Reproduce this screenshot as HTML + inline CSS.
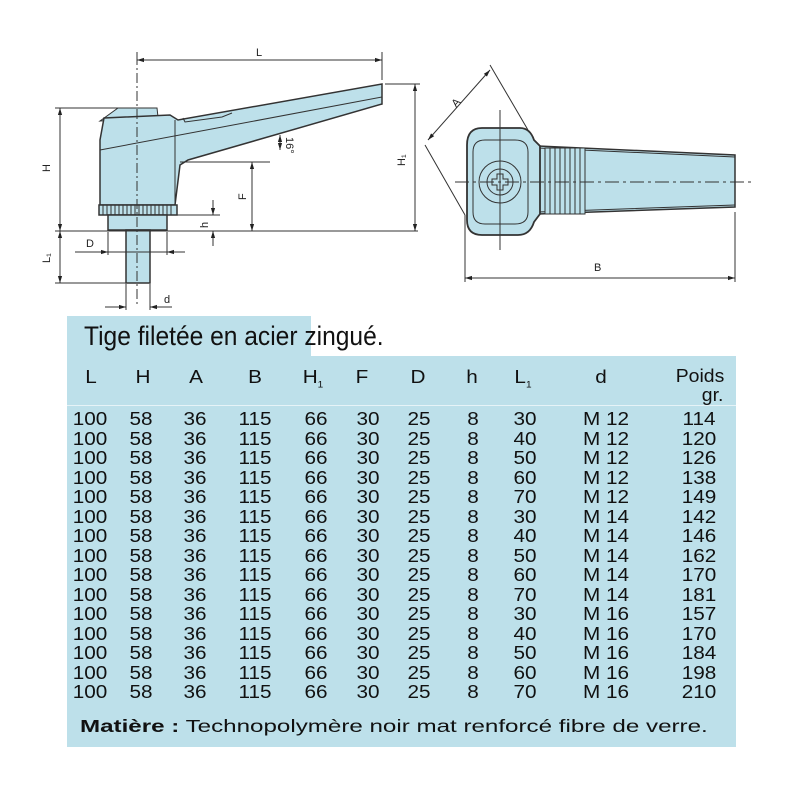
<!DOCTYPE html>
<html><head><meta charset="utf-8"><style>
body{margin:0;width:800px;height:800px;background:#fff;position:relative;overflow:hidden;font-family:"Liberation Sans",Arial,sans-serif;}
.t{position:absolute;white-space:nowrap;color:#111;}
.row{position:absolute;left:0;font-size:18.5px;color:#111;}
.row span{position:absolute;top:-2px;text-align:center;transform:scaleX(1.12);white-space:nowrap;}
</style></head><body>
<svg width="800" height="320" style="position:absolute;left:0;top:0" viewBox="0 0 800 320">
<defs><marker id="a" viewBox="0 0 10 10" refX="10" refY="5" markerWidth="7" markerHeight="7" orient="auto-start-reverse"><path d="M0,2 L10,5 L0,8z" fill="#222"/></marker></defs>
<g stroke="#333" stroke-width="1" fill="none">
<path d="M118,108 L157,108 L158,117 L100,121 Z" fill="#bde0ea"/>
<path d="M104,118 L170,115 L178,120 L382,84 L382,104 L188,160 L180,165 L175,205 L100,205 L100,140 Z" fill="#bde0ea" stroke-width="1.5"/>
<path d="M183,118 L185,122 L222,117 L232,113" />
<path d="M100,150 L382,97"/>
<path d="M175,120 L175,205"/>
<rect x="99" y="205" width="78" height="10" fill="#bde0ea" stroke-width="1.5"/>
<path d="M103,205v10M107,205v10M111,205v10M115,205v10M119,205v10M123,205v10M127,205v10M131,205v10M135,205v10M139,205v10M143,205v10M147,205v10M151,205v10M155,205v10M159,205v10M163,205v10M167,205v10M171,205v10"/>
<rect x="108" y="215" width="59" height="15" fill="#bde0ea" stroke-width="1.5"/>
<rect x="126" y="230" width="24" height="53" fill="#bde0ea" stroke-width="1.5"/>
<path d="M137,55 L137,305" stroke-dasharray="10,3,2,3"/>
<path d="M137,52 L137,60 M382,52 L382,80"/>
<path d="M137,60 L382,60" marker-start="url(#a)" marker-end="url(#a)"/>
<path d="M55,231 L418,231"/>
<path d="M55,108 L118,108 M55,283 L126,283 M385,84 L420,84 M180,162 L270,162 M177,215 L220,215"/>
<path d="M60,108 L60,231" marker-start="url(#a)" marker-end="url(#a)"/>
<path d="M60,231 L60,283" marker-start="url(#a)" marker-end="url(#a)"/>
<path d="M415,84 L415,231" marker-start="url(#a)" marker-end="url(#a)"/>
<path d="M252,162 L252,231" marker-start="url(#a)" marker-end="url(#a)"/>
<path d="M213,200 L213,215" marker-end="url(#a)"/><path d="M213,246 L213,231" marker-end="url(#a)"/>
<path d="M280,135 L280,150" marker-start="url(#a)" marker-end="url(#a)"/>
<path d="M108,232 L108,255 M167,232 L167,255"/>
<path d="M75,252 L167,252" /><path d="M90,252 L108,252" marker-end="url(#a)"/><path d="M185,252 L167,252" marker-end="url(#a)"/>
<path d="M126,284 L126,310 M150,284 L150,310"/>
<path d="M105,307 L126,307" marker-end="url(#a)"/><path d="M172,307 L150,307" marker-end="url(#a)"/>
<path d="M538,146 L735,155 L735,207 L538,214 Z" fill="#bde0ea" stroke-width="1.5"/>
<path d="M538,148 L735,157 M538,212 L735,205"/>
<path d="M482,128 L520,128 Q530,128 534,140 L540,146 L540,214 L534,222 Q530,235 518,235 L482,235 Q467,235 467,220 L467,145 Q467,128 482,128 Z" fill="#bde0ea" stroke-width="1.8"/>
<path d="M485,140 L515,140 Q528,140 528,152 L528,212 Q528,224 515,224 L485,224 Q473,224 473,212 L473,152 Q473,140 485,140 Z"/>
<rect x="545" y="148" width="40" height="66" fill="#bde0ea"/>
<path d="M550,148v66M555,148v66M560,148v66M565,148v66M570,148v66M575,148v66M580,148v66"/>
<circle cx="500" cy="182" r="21"/><circle cx="500" cy="182" r="13"/>
<path d="M497,174h6v5h5v6h-5v5h-6v-5h-5v-6h5z" fill="#bde0ea"/>
<path d="M455,182 L752,182" stroke-dasharray="14,4,3,4"/>
<path d="M500,110 L500,250"/>
<path d="M465,215 L465,282 M735,212 L735,282"/>
<path d="M465,278 L735,278" marker-start="url(#a)" marker-end="url(#a)"/>
<path d="M425,145 L465,215 M490,65 L528,130"/>
<path d="M428,140 L490,70" marker-start="url(#a)" marker-end="url(#a)"/>
</g>
<g font-family="Liberation Sans,sans-serif" font-size="11" fill="#222">
<text x="256" y="56">L</text>
<text x="50" y="172" transform="rotate(-90 50 172)">H</text>
<text x="405" y="166" transform="rotate(-90 405 166)">H₁</text>
<text x="246" y="200" transform="rotate(-90 246 200)">F</text>
<text x="50" y="263" transform="rotate(-90 50 263)">L₁</text>
<text x="208" y="228" transform="rotate(-90 208 228)">h</text>
<text x="286" y="137" transform="rotate(90 286 137)">16°</text>
<text x="86" y="247">D</text>
<text x="164" y="303">d</text>
<text x="594" y="271">B</text>
<text x="450" y="106" transform="rotate(-48 455 100)">A</text>
</g>
</svg>
<div style="position:absolute;left:67px;top:316px;width:244px;height:42px;background:#bde0ea"></div>
<div style="position:absolute;left:67px;top:356px;width:669px;height:391px;background:#bde0ea"></div>
<div style="position:absolute;left:67px;top:405px;width:669px;height:1px;background:#e6f3f7"></div>
<div class="t" style="left:84px;top:321px;font-size:27px;transform:scaleX(0.91);transform-origin:left">Tige filetée en acier zingué.</div>
<div class="row" style="top:368px;width:800px;height:40px">
<span style="left:81px;width:20px">L</span><span style="left:133px;width:20px">H</span><span style="left:186px;width:20px">A</span><span style="left:245px;width:20px">B</span><span style="left:300px;width:26px">H<sub style="font-size:9px">1</sub></span><span style="left:352px;width:20px">F</span><span style="left:408px;width:20px">D</span><span style="left:462px;width:20px">h</span><span style="left:510px;width:26px">L<sub style="font-size:9px">1</sub></span><span style="left:591px;width:20px">d</span><span style="left:670px;width:60px;line-height:19px;transform:scaleX(1.05)">Poids<br><span style="position:static;padding-left:24px;transform:none">gr.</span></span>
</div>
<div id="rows"></div>
<div class="t" style="left:80px;top:716px;font-size:17.5px;transform:scaleX(1.38);transform-origin:left"><b>Matière :</b> Technopolymère noir mat renforcé fibre de verre.</div>
<script>
var d=[["30","M 12","114"],["40","M 12","120"],["50","M 12","126"],["60","M 12","138"],["70","M 12","149"],["30","M 14","142"],["40","M 14","146"],["50","M 14","162"],["60","M 14","170"],["70","M 14","181"],["30","M 16","157"],["40","M 16","170"],["50","M 16","184"],["60","M 16","198"],["70","M 16","210"]];
var h="";
d.forEach(function(r,i){var y=410+i*19.5;
h+='<div class="row" style="top:'+y+'px;width:800px"><span style="left:70px;width:40px">100</span><span style="left:126px;width:30px">58</span><span style="left:180px;width:30px">36</span><span style="left:234px;width:42px">115</span><span style="left:301px;width:30px">66</span><span style="left:353px;width:30px">30</span><span style="left:404px;width:30px">25</span><span style="left:463px;width:20px">8</span><span style="left:510px;width:30px">'+r[0]+'</span><span style="left:576px;width:60px">'+r[1]+'</span><span style="left:678px;width:42px">'+r[2]+'</span></div>';});
document.getElementById("rows").innerHTML=h;
</script>
</body></html>
